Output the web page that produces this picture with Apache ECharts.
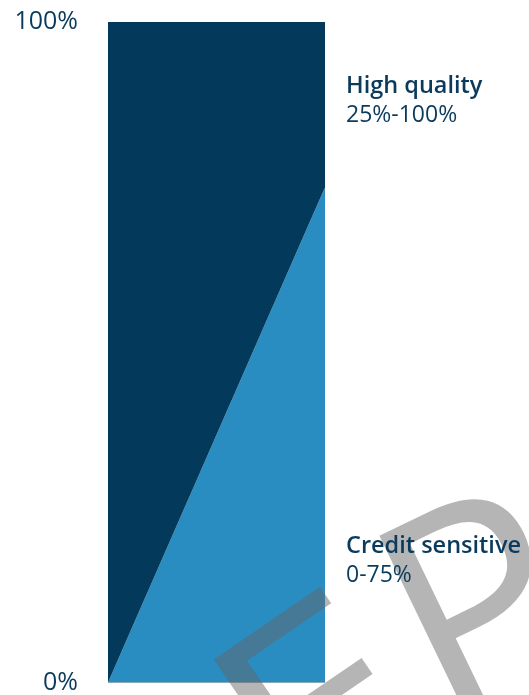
<!DOCTYPE html>
<html>
<head>
<meta charset="utf-8">
<script src="https://cdn.jsdelivr.net/npm/echarts@6/dist/echarts.min.js"></script>
<style>
  html, body { margin: 0; padding: 0; background: #ffffff; }
  #chart { width: 529px; height: 695px; }
</style>
</head>
<body>
<div id="chart"></div>
<script>
// Allocation range across the spectrum (left edge -> right edge), in percent
const positions = ['start', 'end'];
const creditSensitive = [0, 75];
const highQuality = [100, 25];
const yTicks = [0, 100];
const seriesNames = ['Credit sensitive', 'High quality'];
const rangeLabels = ['0-75%', '25%-100%'];

const navy = '#033a5b';
const blue = '#2a8dc2';
const textColor = '#0b3b5c';
const stampFill = 'rgba(100,100,100,0.48)';

const chart = echarts.init(document.getElementById('chart'), null, { renderer: 'canvas' });

const labelRich = {
  b: { fontFamily: 'Open Sans', fontWeight: 600, fontSize: 23.5, lineHeight: 29, fill: textColor },
  n: { fontFamily: 'Open Sans', fontWeight: 400, fontSize: 23, lineHeight: 29, fill: textColor }
};

// Large tilted stamp lettering laid over the lower part of the figure
function stampLetter(ch, x, y, size, rot, sx) {
  return {
    type: 'text', z: 20, x: x, y: y, rotation: rot, scaleX: sx,
    style: {
      text: ch,
      fontFamily: 'Open Sans',
      fontSize: size,
      fontWeight: 400,
      fill: stampFill,
      align: 'left',
      verticalAlign: 'middle'
    }
  };
}

chart.setOption({
  animation: false,
  backgroundColor: '#ffffff',
  grid: { left: 108, right: 204, top: 22, bottom: 9 },
  xAxis: {
    type: 'category',
    data: positions,
    boundaryGap: false,
    show: false
  },
  yAxis: {
    type: 'value', min: 0, max: 100, interval: 100,
    axisLine: { show: false },
    axisTick: { show: false },
    splitLine: { show: true, lineStyle: { color: '#b0b0b0', width: 1 } },
    axisLabel: {
      margin: 30,
      color: textColor,
      fontFamily: 'Open Sans',
      fontSize: 25,
      formatter: (v) => yTicks.includes(v) ? v + '%' : ''
    }
  },
  series: [
    {
      name: seriesNames[0],
      type: 'line',
      stack: 'total',
      data: creditSensitive,
      symbol: 'none',
      lineStyle: { width: 0 },
      areaStyle: { color: blue, opacity: 1 }
    },
    {
      name: seriesNames[1],
      type: 'line',
      stack: 'total',
      data: highQuality,
      symbol: 'none',
      lineStyle: { width: 0 },
      areaStyle: { color: navy, opacity: 1 }
    }
  ],
  graphic: [
    stampLetter('E', 253, 773, 270, 0.6, 1.2),
    stampLetter('P', 408, 660, 290, 0.45, 1),
    {
      type: 'text', left: 346, top: 74, z: 30,
      style: {
        text: '{b|' + seriesNames[1] + '}\n{n|' + rangeLabels[1] + '}',
        rich: labelRich
      }
    },
    {
      type: 'text', left: 346, top: 534, z: 30,
      style: {
        text: '{b|' + seriesNames[0] + '}\n{n|' + rangeLabels[0] + '}',
        rich: labelRich
      }
    }
  ]
});
</script>
</body>
</html>
